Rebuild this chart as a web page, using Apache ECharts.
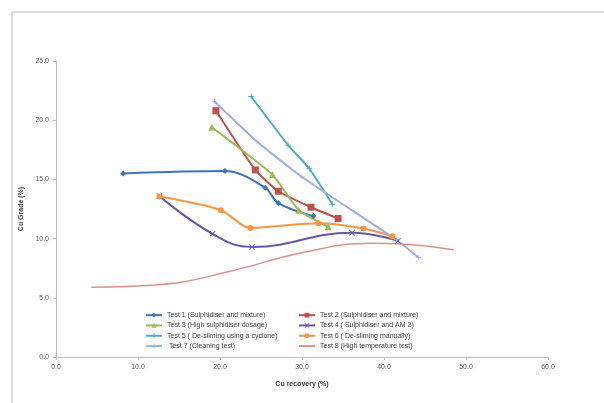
<!DOCTYPE html>
<html><head><meta charset="utf-8">
<script src="https://cdn.jsdelivr.net/npm/echarts@6/dist/echarts.min.js"></script>
<style>html,body{margin:0;padding:0;background:#fff}#c{width:604px;height:403px}</style>
</head><body><div id="c"></div>
<script>
var seriesNames = [
  "Test 1 (Sulphidiser and mixture)",
  "Test 2 (Sulphidiser and mixture)",
  "Test 3 (High sulphidiser dosage)",
  "Test 4 ( Sulphidiser and AM 2)",
  "Test 5 ( De-sliming using a cyclone)",
  "Test 6 ( De-sliming manually)",
  " Test 7 (Cleaning test)",
  "Test 8 (High temperature test)"
];
var test1 = [[8.2,15.5],[20.6,15.7],[25.5,14.3],[27.1,13.0],[31.4,11.9]];
var test2 = [[19.5,20.8],[24.3,15.8],[27.1,14.0],[31.1,12.65],[34.4,11.7]];
var test3 = [[19.0,19.4],[26.4,15.4],[29.6,12.4],[33.2,11.0]];
var test4 = [[12.6,13.6],[19.1,10.4],[23.9,9.3],[36.1,10.5],[41.7,9.8]];
var test5 = [[23.8,22.0],[28.3,17.9],[30.9,15.9],[33.7,12.9]];
var test6 = [[12.6,13.55],[20.1,12.4],[23.7,10.9],[32.0,11.3],[37.5,10.85],[41.0,10.2]];
var test7 = [[19.3,21.6],[24.5,18.2],[30.0,15.2],[41.5,9.9],[44.2,8.4]];
var test8 = [[4.3,5.9],[12.5,6.1],[21.0,7.2],[30.0,8.8],[38.5,9.6],[42.0,9.55],[48.5,9.05]];
var xTicks = [0,10,20,30,40,50,60];
var yTicks = [0,5,10,15,20,25];

var colors = ['#3F74B8','#C0504D','#9BBB59','#6B55A8','#4BACC6','#F79646','#9DB0DC','#DA9290'];
var plusPath = 'path://M4.3,0H5.7V4.3H10V5.7H5.7V10H4.3V5.7H0V4.3H4.3Z';
var symbols = ['diamond','rect','triangle',
  'path://M0,1L1,0L5,4L9,0L10,1L6,5L10,9L9,10L5,6L1,10L0,9L4,5Z',
  plusPath,
  'circle',
  plusPath,
  'none'];
var sizes = [6,7,7,6,6,6,5,0];
var smooths = [0.35,0.15,0.15,0.45,0.15,0.3,0.15,0.45];
var datas = [test1,test2,test3,test4,test5,test6,test7,test8];

var series = datas.map(function(d,i){
  return {
    name: seriesNames[i], type:'line', data:d,
    symbol: symbols[i], symbolSize: sizes[i], showSymbol: i!==7,
    smooth: smooths[i],
    lineStyle:{color:colors[i], width: i===7?1.5:2},
    itemStyle:{color:colors[i]},
    emphasis:{disabled:true}
  };
});

var fmt = function(v){return v.toFixed(1);};
var legItem = function(i){
  if (i===7) return {name:seriesNames[i], itemStyle:{opacity:0}};
  return {name:seriesNames[i]};
};
var chart = echarts.init(document.getElementById('c'));
chart.setOption({
  animation:false,
  backgroundColor:'#fff',
  textStyle:{fontFamily:'Liberation Sans, Arial, sans-serif'},
  graphic:[{type:'rect', shape:{x:12,y:12,width:640,height:440}, style:{fill:'none', stroke:'#d4d4d4', lineWidth:1.5}, z:-1}],
  grid:{left:56,right:56,top:61,bottom:46},
  xAxis:{type:'value', min:xTicks[0], max:xTicks[xTicks.length-1], interval:10,
    name:'Cu recovery (%)', nameLocation:'middle', nameGap:24,
    nameTextStyle:{fontSize:7, fontWeight:'bold', color:'#404040'},
    axisLine:{show:true, lineStyle:{color:'#BEBEBE'}},
    axisTick:{show:true, length:3, lineStyle:{color:'#BEBEBE'}},
    axisLabel:{fontSize:7, color:'#595959', formatter:fmt, margin:7},
    splitLine:{show:false}},
  yAxis:{type:'value', min:yTicks[0], max:yTicks[yTicks.length-1], interval:5,
    name:'Cu Grade (%)', nameLocation:'middle', nameGap:29,
    nameTextStyle:{fontSize:7, fontWeight:'bold', color:'#404040'},
    axisLine:{show:true, lineStyle:{color:'#BEBEBE'}},
    axisTick:{show:true, length:3, lineStyle:{color:'#BEBEBE'}},
    axisLabel:{fontSize:7, color:'#595959', formatter:fmt, margin:7},
    splitLine:{show:false}},
  legend:[
    {data:[0,2,4,6].map(legItem), orient:'vertical',
     left:145, top:310, itemWidth:16, itemHeight:6, itemGap:0, padding:0,
     textStyle:{fontSize:7, color:'#404040', lineHeight:10.3}, selectedMode:false},
    {data:[1,3,5,7].map(legItem), orient:'vertical',
     left:298, top:310, itemWidth:16, itemHeight:6, itemGap:0, padding:0,
     textStyle:{fontSize:7, color:'#404040', lineHeight:10.3}, selectedMode:false}
  ],
  series: series
});
</script></body></html>
